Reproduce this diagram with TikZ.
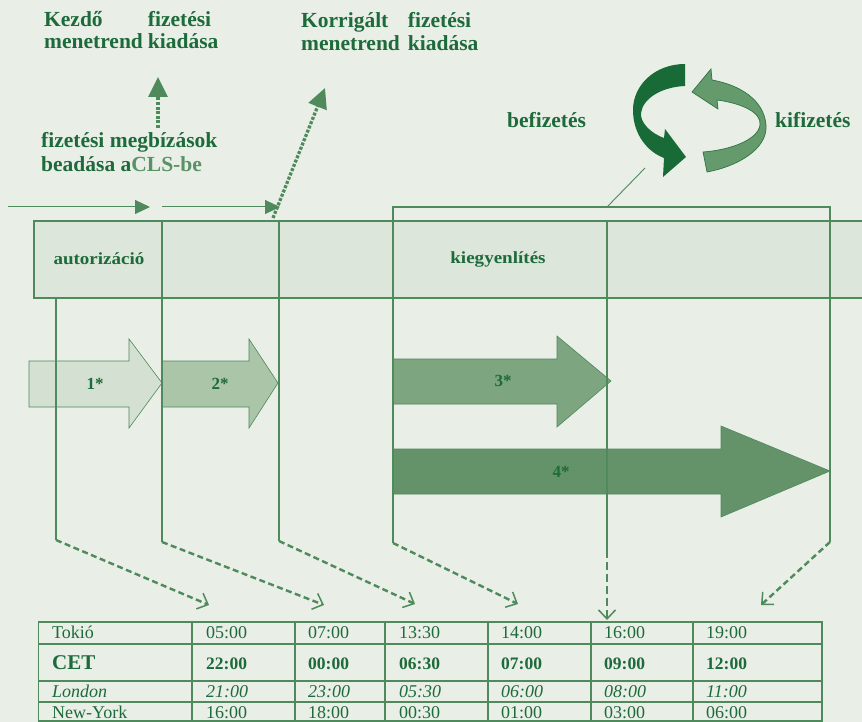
\documentclass[tikz,border=0pt]{standalone}
\usepackage{fontspec}
\setmainfont{Liberation Serif}
\usetikzlibrary{arrows.meta}
\definecolor{bg}{HTML}{E9EEE7}
\definecolor{txt}{HTML}{1D6A3A}
\definecolor{ln}{HTML}{4E8A5C}
\definecolor{lt}{HTML}{5A9166}
\definecolor{band}{HTML}{DCE6DA}
\definecolor{aone}{HTML}{D4E0D2}
\definecolor{atwo}{HTML}{AAC5A8}
\definecolor{athree}{HTML}{7DA57F}
\definecolor{afour}{HTML}{64936A}
\definecolor{cdark}{HTML}{186A36}
\definecolor{clight}{HTML}{659A6C}
\definecolor{cedge}{HTML}{2E7545}
\begin{document}
\begin{tikzpicture}[x=1pt,y=-1pt,
  toptxt/.style={font=\fontsize{21.5}{22}\selectfont\bfseries, text=txt, inner sep=0pt, anchor=base west},
  bandtxt/.style={font=\fontsize{17}{18}\selectfont\bfseries, text=txt, inner sep=0pt},
  vline/.style={draw=ln, line width=1.1pt},
  harr/.style={draw=ln, line width=1pt, -{Triangle[length=15pt,width=14pt]}},
  dotarr/.style={draw=ln, line width=3.3pt, dash pattern=on 3pt off 1.6pt, -{Triangle[length=20pt,width=19pt]}},
  dashconn/.style={draw=ln, line width=2.4pt, dash pattern=on 6pt off 3.5pt, -{Straight Barb[length=9pt,width=17pt,line width=1.5pt]}},
  bigarr/.style={draw=ln, line width=0.6pt},
  tcell/.style={font=\fontsize{18}{19}\selectfont, text=txt, inner sep=0pt, anchor=base west},
  tbold/.style={font=\fontsize{17.5}{19}\selectfont\bfseries, text=txt, inner sep=0pt, anchor=base west},
  tital/.style={font=\fontsize{18}{19}\selectfont\itshape, text=txt, inner sep=0pt, anchor=base west},
  tline/.style={draw=ln, line width=1.6pt}
]
\fill[bg] (0,0) rectangle (862,722);
\useasboundingbox (0,0) rectangle (862,722);

% top texts
\node[toptxt] (kezdo) at (44,27) {\begin{tabular}[t]{@{}l@{\hspace{5pt}}l@{}}Kezdő & fizetési\\ menetrend & kiadása\end{tabular}};
\node[toptxt] (korr) at (301,28) {\begin{tabular}[t]{@{}l@{\hspace{8pt}}l@{}}Korrigált & fizetési\\[1pt] menetrend & kiadása\end{tabular}};
\node[toptxt] (megb) at (41,148) {\begin{tabular}[t]{@{}l@{}}fizetési megbízások\\[2pt] beadása a{\color{lt}CLS-be}\end{tabular}};
\node[toptxt] (bef) at (507,128) {befizetés};
\node[toptxt] (kif) at (775,128) {kifizetés};

% dotted arrows
\coordinate (d1s) at (158,128); \coordinate (d1e) at (158,77);
\draw[dotarr] (d1s) -- (d1e);
\coordinate (d2s) at (273,218); \coordinate (d2e) at (325,88);
\draw[dotarr] (d2s) -- (d2e);

% circular arrows
\fill[cdark] (685,64) .. controls (655,64) and (633,85) .. (633,110)
  .. controls (633,135) and (648,152) .. (664,158) -- (663,177) -- (686,157) -- (665,129) -- (664,138)
  .. controls (650,133) and (640,122) .. (641,113) .. controls (643,98) and (662,87) .. (685,86) -- cycle;
\filldraw[fill=clight, draw=cedge, line width=0.7pt] (707,172) .. controls (735,167) and (768,150) .. (766,125)
  .. controls (764,100) and (740,85) .. (712,80) -- (711,69) -- (692,92) -- (718,109) -- (717,100)
  .. controls (740,103) and (762,112) .. (760,125) .. controls (758,140) and (730,150) .. (703,152) -- cycle;

% band
\filldraw[fill=band, draw=ln, line width=1.1pt] (34,221) rectangle (866,298);
\node[bandtxt] (auto) at (99,259) {\scalebox{1.12}[1]{autorizáció}};
\node[bandtxt] (kieg) at (498,259) {\scalebox{1.12}[1]{kiegyenlítés}};

% big arrows
\filldraw[bigarr, fill=aone] (29,361) -- (129,361) -- (129,339) -- (162,383) -- (129,428) -- (129,407) -- (29,407) -- cycle;
\filldraw[bigarr, fill=atwo] (162,361) -- (249,361) -- (249,339) -- (278,383) -- (249,428) -- (249,407) -- (162,407) -- cycle;
\filldraw[bigarr, fill=athree] (393,359) -- (557,359) -- (557,336) -- (611,381) -- (557,427) -- (557,404) -- (393,404) -- cycle;
\filldraw[bigarr, fill=afour] (393,449) -- (721,449) -- (721,426) -- (830,471) -- (721,517) -- (721,494) -- (393,494) -- cycle;
\node[bandtxt] (a1) at (95,384) {1*};
\node[bandtxt] (a2) at (220,384) {2*};
\node[bandtxt] (a3) at (503,381) {3*};
\node[bandtxt] (a4) at (561,472) {4*};

% top horizontal arrows
\coordinate (h1s) at (8,207); \coordinate (h1e) at (150,207);
\coordinate (h2s) at (162,207); \coordinate (h2e) at (280,207);
\draw[harr] (h1s) -- (h1e);
\draw[harr] (h2s) -- (h2e);

% vertical lines
\coordinate (v1t) at (56,298);  \coordinate (v1b) at (56,540);
\coordinate (v2t) at (162,221); \coordinate (v2b) at (162,542);
\coordinate (v3t) at (279,221); \coordinate (v3b) at (279,541);
\coordinate (v5t) at (607,221); \coordinate (v5b) at (607,550);
\coordinate (br1) at (393,207); \coordinate (br2) at (830,207);
\coordinate (v4b) at (393,543); \coordinate (v6b) at (830,542);
\draw[vline] (v1t) -- (v1b);
\draw[vline] (v2t) -- (v2b);
\draw[vline] (v3t) -- (v3b);
\draw[vline] (v5t) -- (v5b);
\draw[vline] (v4b) -- (br1) -- (br2) -- (v6b);
\coordinate (cm) at (607,207); \coordinate (cc) at (645,168);
\draw[draw=ln, line width=0.9pt] (cm) -- (cc);

% dashed connectors to the table
\coordinate (t1) at (209,605); \coordinate (t2) at (324,605);
\coordinate (t3) at (415,604); \coordinate (t4) at (518,604);
\coordinate (t5) at (607,620); \coordinate (t6) at (761,605);
\draw[dashconn] (v1b) -- (t1);
\draw[dashconn] (v2b) -- (t2);
\draw[dashconn] (v3b) -- (t3);
\draw[dashconn] (v4b) -- (t4);
\draw[dashconn, dash pattern=on 8pt off 4pt] (v5b) -- (t5);
\draw[dashconn] (v6b) -- (t6);

% table
\draw[tline] (38.5,622) rectangle (822,721);
\foreach \yy in {644,681,702} \draw[tline] (38.5,\yy) -- (822,\yy);
\foreach \xx in {192,295,385,488,591,693} \draw[tline] (\xx,622) -- (\xx,721);

\node[tcell] (rA1) at (52,638) {Tokió};
\node[tcell, font=\fontsize{21}{22}\selectfont\bfseries] (rB1) at (52,669) {CET};
\node[tital] (rC1) at (52,697) {London};
\node[tcell] (rD1) at (52,718) {New-York};
\foreach \t [count=\i from 2] in {05:00,07:00,13:30,14:00,16:00,19:00}{
  \pgfmathsetmacro\cx{{52,206,308,399,501,604,706}[\i-1]}
  \node[tcell] (rA\i) at (\cx,638) {\t};
}
\foreach \t [count=\i from 2] in {22:00,00:00,06:30,07:00,09:00,12:00}{
  \pgfmathsetmacro\cx{{52,206,308,399,501,604,706}[\i-1]}
  \node[tbold] (rB\i) at (\cx,669) {\t};
}
\foreach \t [count=\i from 2] in {21:00,23:00,05:30,06:00,08:00,11:00}{
  \pgfmathsetmacro\cx{{52,206,308,399,501,604,706}[\i-1]}
  \node[tital] (rC\i) at (\cx,697) {\t};
}
\foreach \t [count=\i from 2] in {16:00,18:00,00:30,01:00,03:00,06:00}{
  \pgfmathsetmacro\cx{{52,206,308,399,501,604,706}[\i-1]}
  \node[tcell] (rD\i) at (\cx,718) {\t};
}
\end{tikzpicture}
\end{document}
